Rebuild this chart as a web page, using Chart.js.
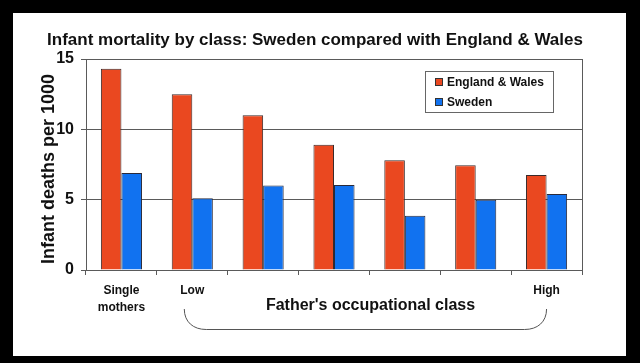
<!DOCTYPE html>
<html>
<head>
<meta charset="utf-8">
<script src="https://cdn.jsdelivr.net/npm/chart.js@4/dist/chart.umd.min.js"></script>
<style>
html,body{margin:0;padding:0;background:#000;}
#wrap{width:640px;height:363px;}
</style>
</head>
<body>
<div id="wrap"><canvas id="c" width="640" height="363"></canvas></div>
<script>
const chartTitle = "Infant mortality by class: Sweden compared with England & Wales";
const yTitle = "Infant deaths per 1000";
const xTitle = "Father's occupational class";
const categories = ["Single mothers", "Low", "Class 2", "Class 3", "Class 4", "Class 5", "High"];
const tickLabels = [["Single", "mothers"], "Low", "", "", "", "", "High"];
const seriesNames = ["England & Wales", "Sweden"];
const englandWales = [14.3, 12.5, 11.0, 8.9, 7.8, 7.45, 6.75];
const sweden = [6.9, 5.1, 6.0, 6.05, 3.85, 5.0, 5.4];
const yTicks = [0, 5, 10, 15];

const colors = ["#EA4820", "#1172F0"];
const gridColor = "#5a5a5a";
const textColor = "#111111";
const FONT = "'Liberation Sans', Arial, sans-serif";

const deco = {
  id: 'deco',
  beforeDraw(chart) {
    const ctx = chart.ctx;
    ctx.save();
    ctx.fillStyle = '#000';
    ctx.fillRect(0, 0, chart.width, chart.height);
    ctx.fillStyle = '#fff';
    ctx.fillRect(13, 13, 613, 343);
    ctx.restore();
  },
  afterDraw(chart) {
    const ctx = chart.ctx;
    const a = chart.chartArea;
    const xs = chart.scales.x;
    ctx.save();
    // right border of plot
    ctx.strokeStyle = gridColor;
    ctx.lineWidth = 1;
    ctx.beginPath();
    ctx.moveTo(Math.round(a.right) + 0.5, a.top);
    ctx.lineTo(Math.round(a.right) + 0.5, a.bottom);
    ctx.stroke();

    // title
    ctx.fillStyle = textColor;
    ctx.font = "bold 17px " + FONT;
    ctx.textAlign = 'center';
    ctx.textBaseline = 'alphabetic';
    ctx.fillText(chartTitle, 315, 45);

    // y title
    ctx.save();
    ctx.translate(53.5, 169);
    ctx.rotate(-Math.PI / 2);
    ctx.font = "bold 18px " + FONT;
    ctx.fillText(yTitle, 0, 0);
    ctx.restore();

    // x group title
    ctx.font = "bold 16px " + FONT;
    ctx.fillText(xTitle, 370.5, 309.5);

    // bracket
    const x1 = xs.getPixelForValue(1) - 8;
    const x2 = xs.getPixelForValue(6);
    const yTop = 309, yBot = 329.5;
    ctx.strokeStyle = '#555';
    ctx.lineWidth = 1;
    ctx.beginPath();
    ctx.moveTo(x1, yTop);
    ctx.bezierCurveTo(x1, yTop + 13, x1 + 9, yBot, x1 + 22, yBot);
    ctx.lineTo(x2 - 22, yBot);
    ctx.bezierCurveTo(x2 - 9, yBot, x2, yTop + 13, x2, yTop);
    ctx.stroke();

    // legend
    const lx = 425.5, ly = 71.5, lw = 128, lh = 41;
    ctx.strokeStyle = '#666';
    ctx.fillStyle = '#fff';
    ctx.fillRect(lx, ly, lw, lh);
    ctx.strokeRect(lx, ly, lw, lh);
    ctx.font = "bold 12px " + FONT;
    ctx.textAlign = 'left';
    ctx.textBaseline = 'middle';
    chart.data.datasets.forEach((ds, i) => {
      const cy = 82 + i * 20;
      ctx.fillStyle = ds.backgroundColor;
      ctx.fillRect(435.5, cy - 3.5, 7, 7);
      ctx.strokeStyle = '#333';
      ctx.strokeRect(435.5, cy - 3.5, 7, 7);
      ctx.fillStyle = textColor;
      ctx.fillText(ds.label, 447, cy + 0.5);
    });
    ctx.restore();
  }
};

new Chart(document.getElementById('c'), {
  type: 'bar',
  data: {
    labels: tickLabels,
    datasets: [
      { label: seriesNames[0], data: englandWales, backgroundColor: colors[0], borderColor: '#3a2a2a', borderWidth: 1 },
      { label: seriesNames[1], data: sweden, backgroundColor: colors[1], borderColor: '#2a2a3a', borderWidth: 1 }
    ]
  },
  options: {
    responsive: false,
    devicePixelRatio: 1,
    animation: false,
    layout: { padding: { left: 0, top: 59, right: 58, bottom: 33 } },
    plugins: { legend: { display: false }, title: { display: false }, tooltip: { enabled: false } },
    datasets: { bar: { categoryPercentage: 0.58, barPercentage: 1.0 } },
    scales: {
      x: {
        offset: true,
        grid: { display: true, drawOnChartArea: false, drawTicks: true, tickLength: 5, color: gridColor, offset: true },
        border: { display: true, color: gridColor, width: 1 },
        ticks: { color: textColor, font: { family: FONT, size: 12, weight: 'bold', lineHeight: 1.42 }, padding: 7, maxRotation: 0, autoSkip: false },
        afterFit(s) { s.height = 60; }
      },
      y: {
        min: 0, max: 15,
        afterBuildTicks(s) { s.ticks = yTicks.map(v => ({ value: v })); },
        grid: { color: gridColor, tickLength: 5, drawTicks: true },
        border: { display: true, color: gridColor, width: 1 },
        ticks: { color: textColor, font: { family: FONT, size: 16, weight: 'bold' }, padding: 7 },
        afterFit(s) { s.width = 86; }
      }
    }
  },
  plugins: [deco]
});
</script>
</body>
</html>
